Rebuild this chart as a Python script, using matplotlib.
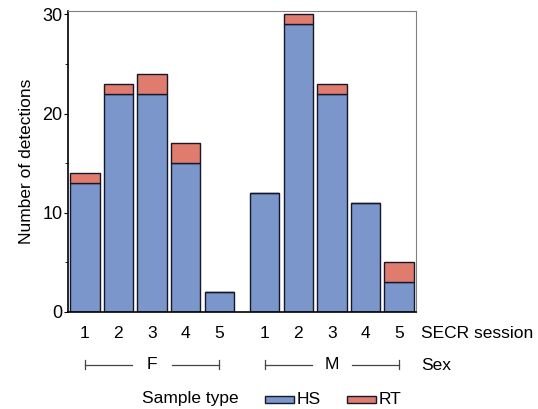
import numpy as np
import matplotlib
matplotlib.use("Agg")
import matplotlib.pyplot as plt
from matplotlib.patches import Rectangle
from matplotlib.ticker import MultipleLocator

plt.rcParams['font.family'] = ['Liberation Sans', 'DejaVu Sans']

sessions = ['1', '2', '3', '4', '5']
sexes = ['F', 'M']
hs_counts = {'F': [13, 22, 22, 15, 2], 'M': [12, 29, 22, 11, 3]}
rt_counts = {'F': [1, 1, 2, 2, 0], 'M': [0, 1, 1, 0, 2]}

hs_color = '#7b96cb'
rt_color = '#e07c6e'
edge = '#14182a'
group_gap = 1.35
fs = 12.5

fig = plt.figure(figsize=(5.38, 4.09), dpi=100)
ax = fig.add_axes([68 / 538, 1 - 312 / 409, (416 - 68) / 538, (312 - 11) / 409])

xpos_all = []
labels_all = []
for g, sex in enumerate(sexes):
    x = np.arange(len(sessions)) + g * (len(sessions) - 1 + group_gap)
    hs = np.array(hs_counts[sex])
    rt = np.array(rt_counts[sex])
    ax.bar(x, hs, width=0.88, color=hs_color, edgecolor=edge, linewidth=1.0)
    ax.bar(x, rt, bottom=hs, width=0.88, color=rt_color, edgecolor=edge, linewidth=1.0)
    xpos_all.extend(x)
    labels_all.extend(sessions)

    # sex bracket below the session labels
    y = -0.176
    tr = ax.get_xaxis_transform()
    mid = x.mean()
    ax.plot([x[0], mid - 0.6], [y, y], color='#444444', lw=0.9, transform=tr, clip_on=False)
    ax.plot([mid + 0.6, x[-1]], [y, y], color='#444444', lw=0.9, transform=tr, clip_on=False)
    for xe in (x[0], x[-1]):
        ax.plot([xe, xe], [y - 0.015, y + 0.015], color='#444444', lw=0.9, transform=tr, clip_on=False)
    ax.text(mid, y, sex, transform=tr, ha='center', va='center', fontsize=fs)

ax.set_xticks(xpos_all)
ax.set_xticklabels(labels_all, fontsize=fs)
ax.tick_params(axis='x', length=0, pad=10)
ax.set_xlim(xpos_all[0] - 0.5, xpos_all[-1] + 0.5)

ax.set_ylim(0, 30.35)
ax.yaxis.set_major_locator(MultipleLocator(10))
ax.yaxis.set_minor_locator(MultipleLocator(5))
ax.tick_params(axis='y', which='major', length=3, labelsize=fs + 0.5, pad=1)
ax.tick_params(axis='y', which='minor', length=2)
ax.set_ylabel('Number of detections', fontsize=fs, labelpad=6)

for s in ('top', 'right'):
    ax.spines[s].set_color('#808080')
for s in ('left', 'bottom'):
    ax.spines[s].set_color('black')
    ax.spines[s].set_linewidth(1.2)

fig.text(421 / 538, 1 - 334 / 409, 'SECR session', fontsize=fs, va='center')
fig.text(421 / 538, 1 - 365 / 409, 'Sex', fontsize=fs, va='center')

# legend row
ly = 1 - 399 / 409
fig.text(142 / 538, ly, 'Sample type', fontsize=fs, va='center')
for x0, col, name in [(265, hs_color, 'HS'), (347, rt_color, 'RT')]:
    fig.patches.append(Rectangle((x0 / 538, ly - 3.5 / 409), 29 / 538, 7 / 409,
                                 transform=fig.transFigure, facecolor=col,
                                 edgecolor=edge, linewidth=1.0))
    fig.text((x0 + 32) / 538, ly, name, fontsize=fs, va='center')

fig.savefig('out.png', dpi=100)
